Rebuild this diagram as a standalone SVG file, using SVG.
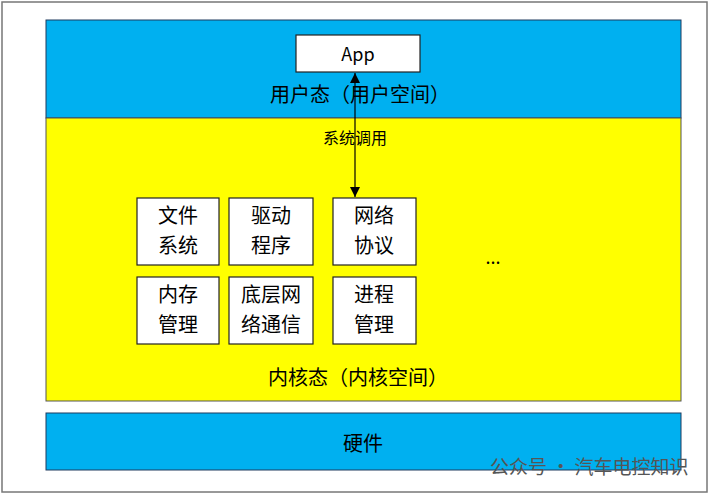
<svg xmlns="http://www.w3.org/2000/svg" width="710" height="495" viewBox="0 0 710 495">
<style>
text{font-family:"Noto Sans CJK SC","Liberation Sans",sans-serif;fill:#000}
.box{fill:#fff;stroke:#222;stroke-width:1.2}
.t{font-size:20px;text-anchor:middle}
</style>
<defs><marker id="a" viewBox="0 0 10 10" refX="10" refY="5" markerWidth="12" markerHeight="10" markerUnits="userSpaceOnUse" orient="auto-start-reverse"><path d="M0,0L10,5L0,10z" fill="#000"/></marker></defs>
<rect x="0" y="0" width="710" height="495" fill="#fff"/>
<rect x="2" y="2" width="705" height="490" fill="none" stroke="#777" stroke-width="1.5"/>
<g id="user"><rect x="46" y="20" width="635" height="98" fill="#00b0f0" stroke="#1f3a5f" stroke-width="1"/>
<text class="t" x="360" y="102">用户态（用户空间）</text></g>
<g id="kernel"><rect x="46" y="118" width="635" height="283" fill="#ffff00" stroke="#555" stroke-width="1"/>
<text class="t" x="358" y="385">内核态（内核空间）</text>
<text x="493" y="264" font-size="18" text-anchor="middle">...</text></g>
<g id="hw"><rect x="46" y="413" width="635" height="57" fill="#00b0f0" stroke="#1f3a5f" stroke-width="1"/>
<text class="t" x="363" y="451">硬件</text></g>
<g id="app"><rect class="box" x="296" y="35" width="124" height="37"/><text x="358" y="61" font-size="18" text-anchor="middle" font-family="Liberation Sans">App</text></g>
<g id="n1"><rect class="box" x="137" y="198" width="82" height="67"/><text class="t" x="178" y="223">文件</text><text class="t" x="178" y="253">系统</text></g>
<g id="n2"><rect class="box" x="229" y="198" width="84" height="67"/><text class="t" x="271" y="223">驱动</text><text class="t" x="271" y="253">程序</text></g>
<g id="n3"><rect class="box" x="333" y="198" width="83" height="67"/><text class="t" x="374" y="223">网络</text><text class="t" x="374" y="253">协议</text></g>
<g id="n4"><rect class="box" x="137" y="277" width="82" height="67"/><text class="t" x="178" y="302">内存</text><text class="t" x="178" y="332">管理</text></g>
<g id="n5"><rect class="box" x="229" y="277" width="84" height="67"/><text class="t" x="271" y="302">底层网</text><text class="t" x="271" y="332">络通信</text></g>
<g id="n6"><rect class="box" x="333" y="277" width="83" height="67"/><text class="t" x="374" y="302">进程</text><text class="t" x="374" y="332">管理</text></g>
<g id="connectors"><line x1="355" y1="73" x2="355" y2="197" stroke="#000" stroke-width="1.2" marker-start="url(#a)" marker-end="url(#a)"/>
<text x="355" y="144" font-size="16" text-anchor="middle">系统调用</text></g>
<text x="490" y="474" font-size="19" style="fill:#555">公众号 · 汽车电控知识</text>
</svg>
